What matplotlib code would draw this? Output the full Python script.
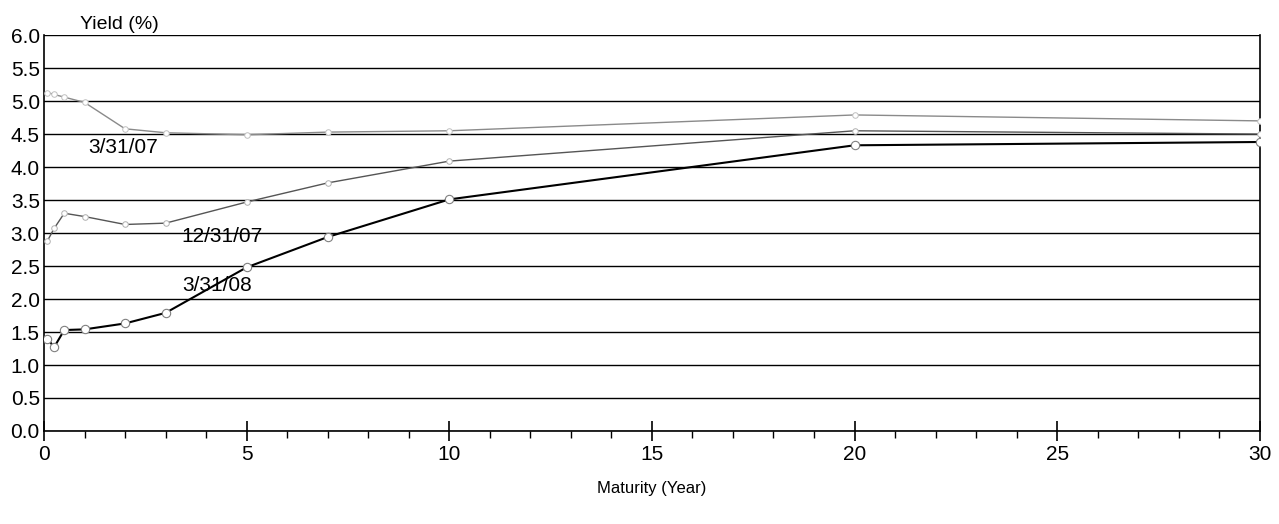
import matplotlib.pyplot as plt
import matplotlib.ticker as tk

# treasury yield curves
maturity = [1/12, 0.25, 0.5, 1, 2, 3, 5, 7, 10, 20, 30]
yield_033107 = [5.13, 5.10, 5.06, 4.98, 4.58, 4.52, 4.49, 4.53, 4.55, 4.79, 4.70]
yield_123107 = [2.88, 3.07, 3.30, 3.25, 3.13, 3.15, 3.47, 3.76, 4.09, 4.55, 4.50]
yield_033108 = [1.40, 1.27, 1.53, 1.54, 1.63, 1.79, 2.48, 2.94, 3.51, 4.33, 4.38]

yticks = [0.0, 0.5, 1.0, 1.5, 2.0, 2.5, 3.0, 3.5, 4.0, 4.5, 5.0, 5.5, 6.0]
xticks = [0, 5, 10, 15, 20, 25, 30]

plt.rcParams['font.family'] = ['Liberation Sans Narrow', 'Liberation Sans', 'DejaVu Sans']

fig = plt.figure(figsize=(12.79, 5.24), dpi=100)
ax = fig.add_axes([0.0344, 0.1775, 0.9506, 0.7555])

for v in yticks:
    ax.axhline(v, color="black", lw=1.0, zorder=1)

ax.plot(maturity, yield_033107, color="#8a8a8a", lw=1.0, marker="o", ms=4,
        mfc="white", mec="#c0c0c0", mew=0.7, zorder=3)
ax.plot(maturity, yield_123107, color="#555555", lw=1.0, marker="o", ms=4,
        mfc="white", mec="#b0b0b0", mew=0.7, zorder=3)
ax.plot(maturity, yield_033108, color="black", lw=1.5, marker="o", ms=6,
        mfc="white", mec="#808080", mew=0.8, zorder=4)

ax.text(1.1, 4.3, "3/31/07", fontsize=15, ha="left", va="center")
ax.text(3.4, 2.95, "12/31/07", fontsize=15, ha="left", va="center")
ax.text(3.4, 2.2, "3/31/08", fontsize=15, ha="left", va="center")

ax.set_xlim(0, 30)
ax.set_ylim(0, 6.0)
ax.set_yticks(yticks)
ax.yaxis.set_major_formatter(tk.FormatStrFormatter("%.1f"))
ax.set_xticks(xticks)
ax.xaxis.set_minor_locator(tk.MultipleLocator(1))
ax.tick_params(axis="y", length=0, pad=3, labelsize=15)
ax.tick_params(axis="x", which="major", direction="inout", length=14, width=1.2,
               labelsize=15, pad=3)
ax.tick_params(axis="x", which="minor", direction="out", length=5, width=1.0)

for s in ["left", "right", "bottom", "top"]:
    ax.spines[s].set_linewidth(1.2)
ax.spines["top"].set_visible(False)

ax.text(0.03, 1.005, "Yield (%)", transform=ax.transAxes, fontsize=14,
        ha="left", va="bottom")
ax.set_xlabel("Maturity (Year)", fontsize=12, family=["Liberation Sans", "DejaVu Sans"],
              labelpad=12)

fig.savefig("out.png", dpi=100)
